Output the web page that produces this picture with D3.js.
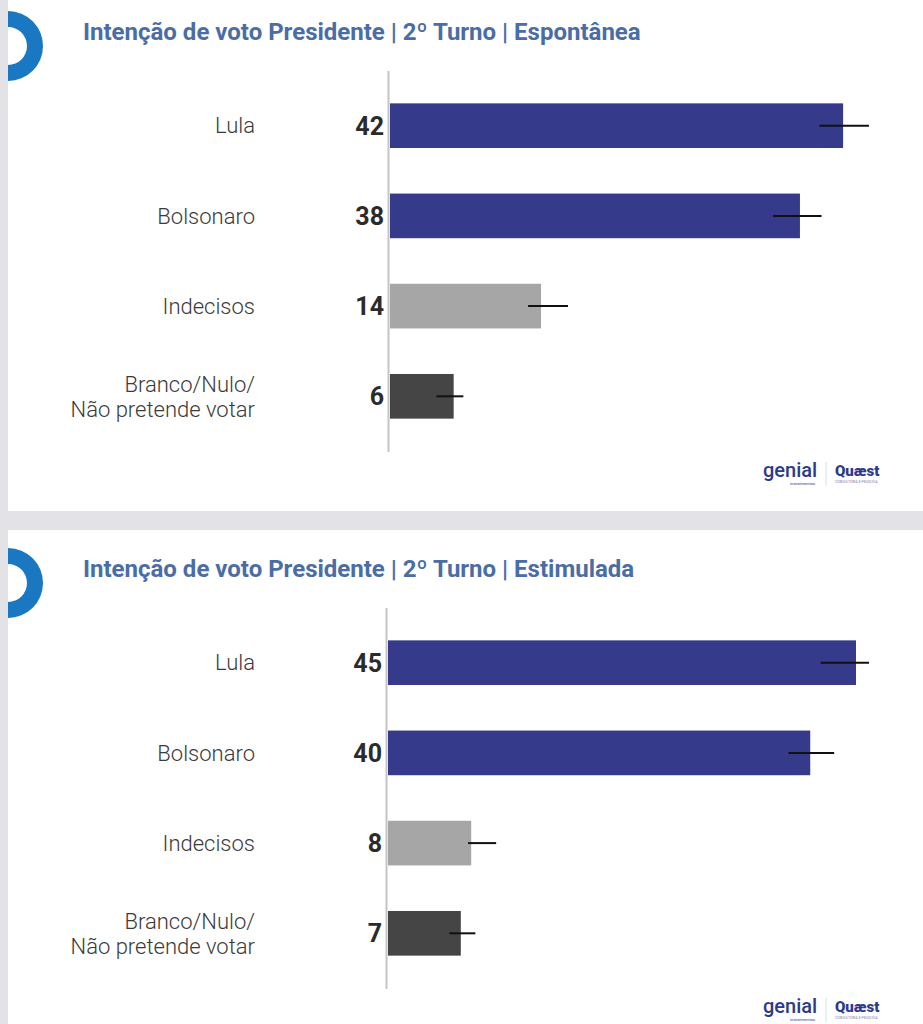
<!DOCTYPE html>
<html>
<head>
<meta charset="utf-8">
<script src="https://cdn.jsdelivr.net/npm/d3@7"></script>
<style>
  body { margin: 0; background: #e3e3e7; }
  svg { display: block; }
</style>
</head>
<body>
<svg id="chart" width="923" height="1024"></svg>
<script>
// Categorias (iguais nos dois quadros)
var categorias = ["Lula", "Bolsonaro", "Indecisos", "Branco/Nulo/\nNão pretende votar"];
var cores = ["#353b8a", "#353b8a", "#a6a6a6", "#454545"];

// Espontânea
var espontaneaValores = [42, 38, 14, 5.9];
var espontaneaRotulos = ["42", "38", "14", "6"];
var espontaneaErroMin = [39.8, 35.5, 12.8, 4.3];
var espontaneaErroMax = [44.4, 40.0, 16.5, 6.8];

// Estimulada
var estimuladaValores = [45, 40.6, 8, 7];
var estimuladaRotulos = ["45", "40", "8", "7"];
var estimuladaErroMin = [41.6, 38.5, 7.7, 5.9];
var estimuladaErroMax = [46.25, 42.9, 10.4, 8.4];

var titulos = [
    "Intenção de voto Presidente | 2º Turno | Espontânea",
    "Intenção de voto Presidente | 2º Turno | Estimulada"
];

var svg = d3.select("#chart");

function desenhaQuadro(top, height, titulo, valores, rotulos, erroMin, erroMax, x0, idx) {
    var g = svg.append("g").attr("transform", "translate(0," + top + ")");

    // fundo branco do quadro
    g.append("rect")
        .attr("x", 8).attr("y", 0)
        .attr("width", 915).attr("height", height)
        .attr("fill", "#ffffff");

    // anel azul cortado na esquerda
    g.append("clipPath").attr("id", "clip" + idx)
        .append("rect").attr("x", 8).attr("y", 0).attr("width", 915).attr("height", height);
    var arc = d3.arc().innerRadius(19).outerRadius(35).startAngle(0).endAngle(2 * Math.PI);
    g.append("g")
        .attr("clip-path", "url(#clip" + idx + ")")
        .append("path")
            .attr("transform", "translate(8," + (idx === 0 ? 46 : 53) + ")")
            .attr("d", arc())
            .attr("fill", "#1a78c2");

    // titulo
    g.append("text")
        .attr("x", 83)
        .attr("y", idx === 0 ? 40 : 47)
        .style("font-family", "Roboto")
        .style("font-weight", "bold")
        .style("font-size", "24px")
        .attr("fill", "#4a6da6")
        .text(titulo);

    var yTop = idx === 0 ? 79 : 86;
    var y = d3.scaleBand()
        .domain(categorias)
        .range([yTop, yTop + 364])
        .paddingInner(0.505)
        .paddingOuter(0.27);

    var x = d3.scaleLinear()
        .domain([0, d3.max(erroMax)])
        .range([x0, 869]);

    // eixo vertical
    g.append("line")
        .attr("x1", x0 - 1.5).attr("x2", x0 - 1.5)
        .attr("y1", yTop - 8).attr("y2", yTop + 373)
        .attr("stroke", "#c4c4c4")
        .attr("stroke-width", 2);

    // barras
    g.selectAll("rect.bar")
        .data(valores)
        .enter()
        .append("rect")
            .attr("class", "bar")
            .attr("x", x(0))
            .attr("y", function(d, i) { return y(categorias[i]); })
            .attr("width", function(d) { return x(d) - x(0); })
            .attr("height", y.bandwidth())
            .attr("fill", function(d, i) { return cores[i]; });

    // barras de erro
    g.selectAll("line.erro")
        .data(valores)
        .enter()
        .append("line")
            .attr("class", "erro")
            .attr("x1", function(d, i) { return x(erroMin[i]); })
            .attr("x2", function(d, i) { return x(erroMax[i]); })
            .attr("y1", function(d, i) { return y(categorias[i]) + y.bandwidth() / 2; })
            .attr("y2", function(d, i) { return y(categorias[i]) + y.bandwidth() / 2; })
            .attr("stroke", "#111")
            .attr("stroke-width", 2);

    // rotulos de valor
    g.selectAll("text.valor")
        .data(rotulos)
        .enter()
        .append("text")
            .attr("class", "valor")
            .attr("x", x0 - 6)
            .attr("y", function(d, i) { return y(categorias[i]) + y.bandwidth() / 2; })
            .attr("dy", "0.36em")
            .style("text-anchor", "end")
            .style("font-family", "Roboto")
            .style("font-weight", "bold")
            .style("font-size", "25px")
            .attr("fill", "#2b2b2b")
            .text(function(d) { return d; });

    // categorias
    categorias.forEach(function(c, i) {
        var linhas = c.split("\n");
        var cy = y(c) + y.bandwidth() / 2;
        var t = g.append("text")
            .attr("x", 255)
            .style("text-anchor", "end")
            .style("font-family", "Roboto")
            .style("font-weight", "300")
            .style("font-size", "22px")
            .attr("fill", "#3a3a3a");
        linhas.forEach(function(l, j) {
            t.append("tspan")
                .attr("x", 255)
                .attr("y", cy + (j - (linhas.length - 1) / 2) * 25)
                .attr("dy", "0.35em")
                .text(l);
        });
    });

    // logos
    var ly = idx === 0 ? 474 : 480;
    g.append("text")
        .attr("x", 763).attr("y", ly + 3)
        .style("font-family", "Roboto")
        .style("font-weight", "500")
        .style("font-size", "20px")
        .attr("fill", "#2c3a8c")
        .text("genial");
    g.append("text")
        .attr("x", 815).attr("y", ly + 11)
        .style("text-anchor", "end")
        .style("font-family", "Roboto")
        .style("font-size", "4px")
        .attr("fill", "#2c3a8c")
        .text("investimentos");
    g.append("line")
        .attr("x1", 826).attr("x2", 826)
        .attr("y1", ly - 12).attr("y2", ly + 12)
        .attr("stroke", "#cfe3ec").attr("stroke-width", 1);
    g.append("text")
        .attr("x", 835).attr("y", ly + 2)
        .style("font-family", "Roboto")
        .style("font-weight", "900")
        .style("font-size", "15px")
        .attr("fill", "#2c3a8c")
        .text("Quæst");
    g.append("text")
        .attr("x", 835).attr("y", ly + 9)
        .style("font-family", "Roboto")
        .style("font-size", "3.5px")
        .attr("fill", "#7a80b0")
        .text("CONSULTORIA E PESQUISA");
}

desenhaQuadro(0, 511, titulos[0], espontaneaValores, espontaneaRotulos, espontaneaErroMin, espontaneaErroMax, 390, 0);
desenhaQuadro(530, 494, titulos[1], estimuladaValores, estimuladaRotulos, estimuladaErroMin, estimuladaErroMax, 388, 1);
</script>
</body>
</html>
